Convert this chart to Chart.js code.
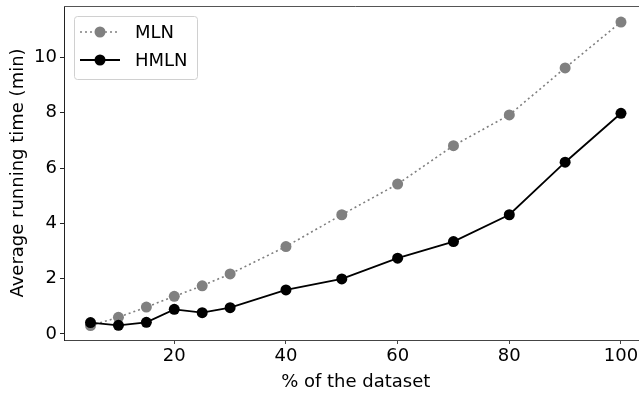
<!DOCTYPE html>
<html>
<head>
<meta charset="utf-8">
<script src="https://cdn.jsdelivr.net/npm/chart.js@4/dist/chart.umd.min.js"></script>
<style>
  html, body { margin: 0; padding: 0; background: #fff; overflow: hidden; }
  #wrap { width: 660px; height: 395px; position: relative; }
</style>
</head>
<body>
<div id="wrap"><canvas id="runtime-chart"></canvas></div>
<script>
// % of the dataset
const percents = [5, 10, 15, 20, 25, 30, 40, 50, 60, 70, 80, 90, 100];
// average running time (min)
const mlnTimes = [0.30, 0.60, 0.97, 1.36, 1.74, 2.17, 3.16, 4.31, 5.42, 6.81, 7.92, 9.62, 11.28];
const hmlnTimes = [0.41, 0.31, 0.42, 0.89, 0.77, 0.95, 1.59, 1.99, 2.74, 3.34, 4.31, 6.21, 7.98];
const xTicks = [20, 40, 60, 80, 100];
const yTicks = [0, 2, 4, 6, 8, 10];

const FONT = "'DejaVu Sans', sans-serif";

// matplotlib-style legend box + top spine
const boxLegend = {
  id: 'boxLegend',
  afterDraw(chart) {
    const ctx = chart.ctx;
    const area = chart.chartArea;
    ctx.save();
    // top spine
    ctx.strokeStyle = '#555';
    ctx.lineWidth = 1;
    ctx.beginPath();
    ctx.moveTo(area.left, area.top + 0.5);
    ctx.lineTo(area.right, area.top + 0.5);
    ctx.stroke();

    // legend frame
    const bx = 74.5, by = 16.5, bw = 123, bh = 63, r = 3;
    ctx.fillStyle = 'rgba(255,255,255,0.8)';
    ctx.strokeStyle = '#d0d0d0';
    ctx.beginPath();
    ctx.moveTo(bx + r, by);
    ctx.arcTo(bx + bw, by, bx + bw, by + bh, r);
    ctx.arcTo(bx + bw, by + bh, bx, by + bh, r);
    ctx.arcTo(bx, by + bh, bx, by, r);
    ctx.arcTo(bx, by, bx + bw, by, r);
    ctx.closePath();
    ctx.fill();
    ctx.stroke();

    const rows = [32, 60];
    chart.data.datasets.forEach((ds, i) => {
      const y = rows[i];
      ctx.strokeStyle = ds.borderColor;
      ctx.lineWidth = ds.borderWidth;
      ctx.setLineDash(ds.borderDash || []);
      ctx.beginPath();
      ctx.moveTo(80, y);
      ctx.lineTo(120, y);
      ctx.stroke();
      ctx.setLineDash([]);
      ctx.fillStyle = ds.pointBackgroundColor;
      ctx.beginPath();
      ctx.arc(100, y, ds.pointRadius, 0, Math.PI * 2);
      ctx.fill();
      ctx.fillStyle = '#000';
      ctx.font = '18px ' + FONT;
      ctx.textBaseline = 'middle';
      ctx.fillText(ds.label, 135, y + 1);
    });
    ctx.restore();
  }
};

const datasets = [
  {
    label: 'MLN',
    data: percents.map((p, i) => ({ x: p, y: mlnTimes[i] })),
    borderColor: '#808080',
    backgroundColor: '#808080',
    pointBackgroundColor: '#808080',
    pointBorderColor: '#808080',
    borderWidth: 1.6,
    borderDash: [2, 3],
    pointRadius: 5.5,
    pointBorderWidth: 0,
    order: 1
  },
  {
    label: 'HMLN',
    data: percents.map((p, i) => ({ x: p, y: hmlnTimes[i] })),
    borderColor: '#000000',
    backgroundColor: '#000000',
    pointBackgroundColor: '#000000',
    pointBorderColor: '#000000',
    borderWidth: 1.8,
    pointRadius: 5.5,
    pointBorderWidth: 0,
    order: 0
  }
];

new Chart(document.getElementById('runtime-chart'), {
  type: 'line',
  data: { datasets: datasets },
  options: {
    responsive: true,
    maintainAspectRatio: false,
    animation: false,
    layout: { padding: { top: 6, right: 12.5, left: 0, bottom: 0 } },
    plugins: {
      legend: { display: false },
      tooltip: { enabled: false }
    },
    scales: {
      x: {
        type: 'linear',
        min: 0.25,
        max: 104.75,
        afterFit(scale) { scale.height = 55; scale.paddingLeft = 0; scale.paddingRight = 0; },
        afterBuildTicks(scale) { scale.ticks = xTicks.map(v => ({ value: v })); },
        grid: { drawOnChartArea: false, drawTicks: true, tickLength: 4, tickColor: '#444' },
        border: { display: true, color: '#444', width: 1 },
        ticks: { color: '#000', font: { family: FONT, size: 18 }, padding: 2, maxRotation: 0 },
        title: {
          display: true,
          text: '% of the dataset',
          color: '#000',
          font: { family: FONT, size: 18 },
          padding: { top: 0, bottom: 2 }
        }
      },
      y: {
        type: 'linear',
        min: -0.22,
        max: 11.86,
        afterFit(scale) { scale.width = 64; scale.paddingTop = 0; scale.paddingBottom = 0; },
        afterBuildTicks(scale) { scale.ticks = yTicks.map(v => ({ value: v })); },
        grid: { drawOnChartArea: false, drawTicks: true, tickLength: 4, tickColor: '#222' },
        border: { display: true, color: '#222', width: 1 },
        ticks: { color: '#000', font: { family: FONT, size: 18 }, padding: 3 },
        title: {
          display: true,
          text: 'Average running time (min)',
          color: '#000',
          font: { family: FONT, size: 18 },
          padding: { top: 8, bottom: 0 }
        }
      }
    }
  },
  plugins: [boxLegend]
});
</script>
</body>
</html>
